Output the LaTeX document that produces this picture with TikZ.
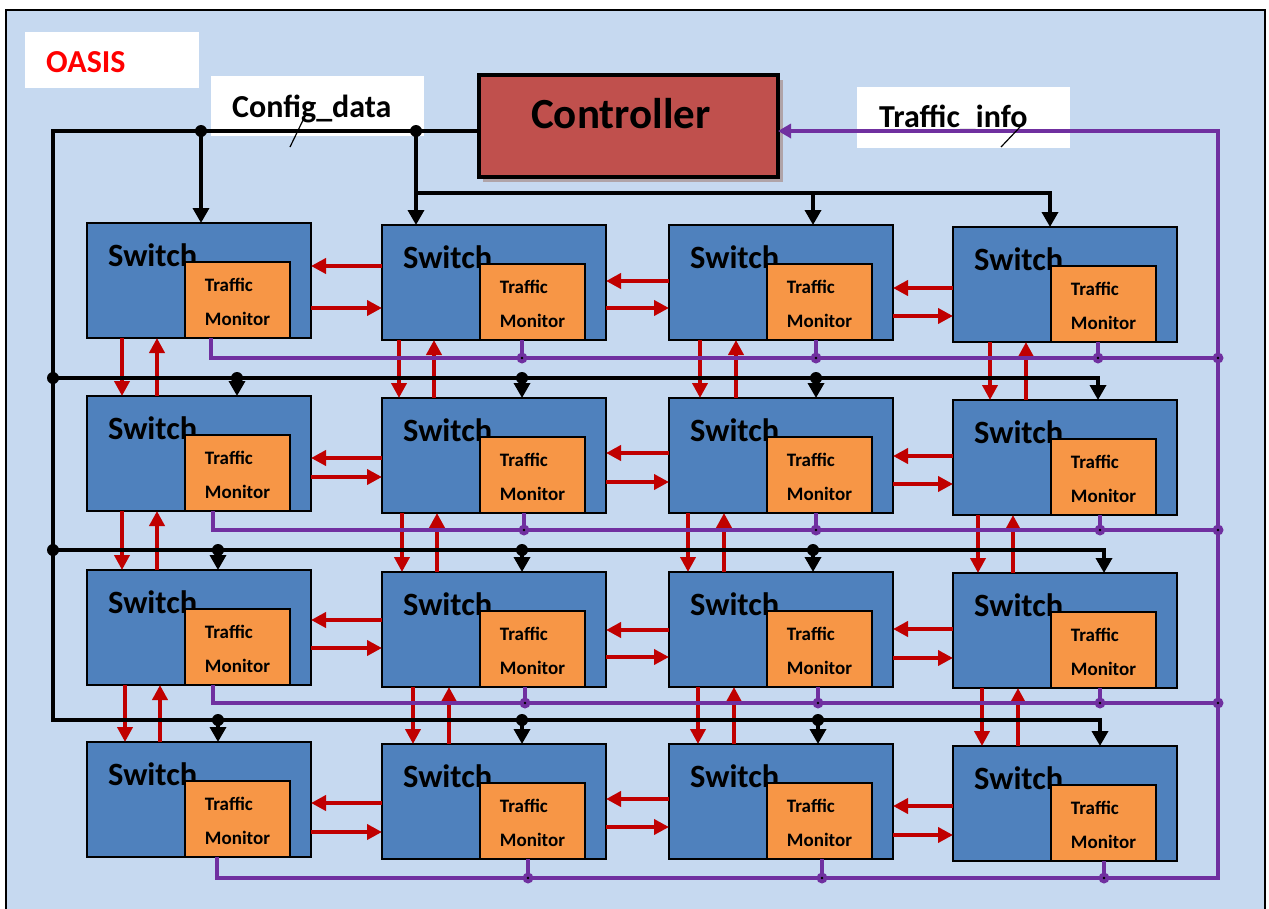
\documentclass[tikz,border=0pt]{standalone}
\usepackage{fontspec}
\setmainfont{Carlito}
\usetikzlibrary{arrows.meta,calc}

\definecolor{bgblue}{HTML}{C6D9F0}
\definecolor{swblue}{HTML}{4F81BD}
\definecolor{monorange}{HTML}{F79646}
\definecolor{ctrlred}{HTML}{C0504D}
\definecolor{linkred}{HTML}{C00000}
\definecolor{infopurple}{HTML}{7030A0}
\definecolor{shadowgrey}{HTML}{B0A4A8}

\tikzset{
  sw/.style={draw=black, line width=2.8pt, fill=swblue, minimum width=224pt,
    minimum height=115pt, inner sep=0pt, outer sep=0pt, anchor=north west},
  mon/.style={draw=black, line width=2.8pt, fill=monorange, minimum width=105pt,
    minimum height=76pt, inner sep=0pt, outer sep=0pt, anchor=south east},
  swtext/.style={font=\fontsize{32.5}{38}\selectfont\bfseries, anchor=base west, inner sep=0pt},
  montext/.style={font=\fontsize{19}{34}\selectfont\bfseries, align=left, inner sep=0pt},
  labelbox/.style={fill=white, inner sep=0pt, outer sep=0pt, anchor=north west},
  bigtext/.style={font=\fontsize{32}{38}\selectfont\bfseries, anchor=base west, inner sep=0pt},
  redlink/.style={draw=linkred, line width=4pt, -{Triangle[length=15pt,width=15pt]}},
  bus/.style={draw=black, line width=3.5pt},
  busarr/.style={bus, -{Triangle[length=15pt,width=16pt]}},
  info/.style={draw=infopurple, line width=3.6pt},
  infoarr/.style={info, -{Triangle[length=13pt,width=14pt]}},
  tick/.style={draw=black, line width=1.2pt},
}

\begin{document}
\begin{tikzpicture}[x=1pt,y=-1pt]
  % page and frame
  \useasboundingbox (0,0) rectangle (1269,908);
  \fill[white] (0,0) rectangle (1269,908);
  \draw[line width=2.5pt, fill=bgblue] (6,10) rectangle (1265,925);

  % title and bus labels
  \node[labelbox, minimum width=174pt, minimum height=56pt] (oasisbox) at (25,32) {};
  \node[bigtext, text=red] (oasis) at (46,72) {OASIS};
  \node[labelbox, minimum width=213pt, minimum height=60pt] (cfgbox) at (211,76) {};
  \node[bigtext] (cfg) at (232,117) {Config\_data};
  \node[labelbox, minimum width=213pt, minimum height=61pt] (tibox) at (857,87) {};
  \node[bigtext] (ti) at (879,127) {Traffic\_info};

  % controller with its drop shadow
  \fill[shadowgrey] (483,80) rectangle (783,182);
  \node[draw=black, line width=3.5pt, fill=ctrlred, minimum width=299pt, minimum height=102pt,
    inner sep=0pt, outer sep=0pt, anchor=north west] (ctrl) at (479,75) {};
  \node[font=\fontsize{43}{50}\selectfont\bfseries, anchor=base west, inner sep=0pt] (ctrltext)
    at (531,128) {Controller};

  % switch grid, each with its traffic monitor
  \foreach \n/\x/\y in {11/87/223, 12/382/225, 13/669/225, 14/953/227,
                        21/87/396, 22/382/398, 23/669/398, 24/953/400,
                        31/87/570, 32/382/572, 33/669/572, 34/953/573,
                        41/87/742, 42/382/744, 43/669/744, 44/953/746} {
    \node[sw] (s\n) at (\x,\y) {};
    \node[swtext] (t\n) at ($(s\n.north west)+(21,43)$) {Switch};
    \node[mon] (m\n) at ($(s\n.south east)+(-21,0)$) {};
    \node[montext] (l\n) at ($(m\n.center)+(0,2)$) {Traffic\\Monitor};
  }

  % horizontal links between neighbouring switches
  \foreach \a/\b/\u/\l in {11/12/266/308, 12/13/281/308, 13/14/288/316,
                           21/22/458/477, 22/23/453/482, 23/24/456/484,
                           31/32/620/648, 32/33/630/657, 33/34/629/658,
                           41/42/803/832, 42/43/799/827, 43/44/806/835} {
    \draw[redlink] (s\b.west |- 0,\u) -- (s\a.east |- 0,\u);
    \draw[redlink] (s\a.east |- 0,\l) -- (s\b.west |- 0,\l);
  }

  % vertical links between rows
  \foreach \a/\b/\d/\p in {11/21/122/157, 12/22/399/434, 13/23/700/736, 14/24/990/1026,
                           21/31/122/157, 22/32/402/437, 23/33/688/724, 24/34/978/1013,
                           31/41/125/160, 32/42/413/449, 33/43/698/734, 34/44/982/1018} {
    \draw[redlink] (s\a.south -| \d,0) -- (s\b.north -| \d,0);
    \draw[redlink] (s\b.north -| \p,0) -- (s\a.south -| \p,0);
  }

  % configuration bus from the controller
  \draw[busarr] (ctrl.west |- 0,131) -- (53,131) -- (53,720) -| (s44.north -| 1100,0);
  \draw[busarr] (201,131) -- (s11.north -| 201,0);
  \draw[busarr] (416,131) -- (s12.north -| 416,0);
  \draw[busarr] (416,193) -| (s14.north -| 1050,0);
  \draw[busarr] (813,193) -- (s13.north -| 813,0);
  \fill (201,131) circle (6) (416,131) circle (6);
  \draw[busarr] (53,378) -| (s24.north -| 1098,0);
  \draw[busarr] (53,550) -| (s34.north -| 1104,0);
  \fill (53,378) circle (6) (53,550) circle (6);
  \foreach \s/\x/\y in {21/237/378, 22/522/378, 23/816/378,
                        31/218/550, 32/522/550, 33/813/550,
                        41/218/720, 42/522/720, 43/818/720} {
    \draw[busarr] (\x,\y) -- (s\s.north -| \x,0);
    \fill (\x,\y) circle (6);
  }

  % traffic information collected back to the controller
  \draw[infoarr] (m41.south -| 217,0) |- (1218,878) -- (1218,131) -- (ctrl.east |- 0,131);
  \draw[info] (m11.south -| 211,0) |- (1218,358);
  \draw[info] (m21.south -| 213,0) |- (1218,530);
  \draw[info] (m31.south -| 213,0) |- (1218,703);
  \foreach \m/\x/\y in {12/522/358, 13/816/358, 14/1098/358,
                        22/524/530, 23/816/530, 24/1100/530,
                        32/525/703, 33/818/703, 34/1100/703,
                        42/528/878, 43/822/878, 44/1104/878} {
    \draw[info] (m\m.south -| \x,0) -- (\x,\y);
    \fill[infopurple] (\x,\y) circle (5.5);
    \fill[black] (\x,\y) circle (1.4);
  }
  \foreach \y in {358,530,703} {
    \fill[infopurple] (1218,\y) circle (5.5);
    \fill[black] (1218,\y) circle (1.4);
  }

  % bus width ticks
  \draw[tick] (290,147) -- (305,116);
  \draw[tick] (1001,147) -- (1020,127);
\end{tikzpicture}
\end{document}
